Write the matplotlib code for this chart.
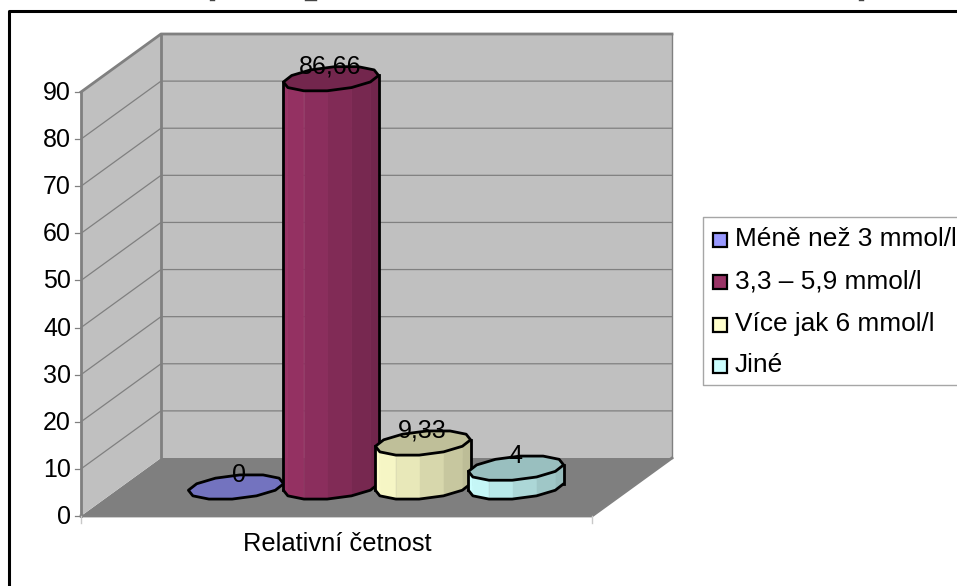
import numpy as np
import matplotlib
matplotlib.use("Agg")
import matplotlib.pyplot as plt
from matplotlib.patches import Polygon, Rectangle

plt.rcParams["font.family"] = ["Liberation Sans", "DejaVu Sans"]

categories = ["Méně než 3 mmol/l", "3,3 – 5,9 mmol/l", "Více jak 6 mmol/l", "Jiné"]
values = [0, 86.66, 9.33, 4]
value_labels = ["0", "86,66", "9,33", "4"]
colors = ["#9999FF", "#993366", "#FFFFCC", "#CCFFFF"]
yticks = [0, 10, 20, 30, 40, 50, 60, 70, 80, 90]
xlabel = "Relativní četnost"

W, H = 957, 586
PX = (516 - 92) / 90  # pixels per percent on the front wall
FS = 18

fig = plt.figure(figsize=(W / 100, H / 100), dpi=100)
ax = fig.add_axes([0, 0, 1, 1])
ax.set_xlim(0, W)
ax.set_ylim(-(H - 516) / PX, 516 / PX)
ax.axis("off")


def dy(pixels):
    return pixels / PX


def to_y(p):
    return dy(516 - p)


# floor and walls of the 3d box
x0, x1 = 81, 592
ddx, ddy = 80, dy(58)
top = yticks[-1]
GREY = "#808080"
ax.add_patch(Polygon([(x0, 0), (x0 + ddx, ddy), (x1 + ddx, ddy), (x1, 0)], fc="#7F7F7F", ec="none"))
ax.add_patch(Polygon([(x0, 0), (x0, top), (x0 + ddx, top + ddy), (x0 + ddx, ddy)], fc="#C0C0C0", ec="none"))
ax.add_patch(Rectangle((x0 + ddx, ddy), x1 - x0, top, fc="#C0C0C0", ec="none"))

for v in yticks[1:-1]:
    ax.plot([x0, x0 + ddx, x1 + ddx], [v, v + ddy, v + ddy], color=GREY, lw=0.9)
    ax.plot([x0 - 6, x0], [v, v], color=GREY, lw=0.9)
ax.plot([x0 - 6, x0], [0, 0], color=GREY, lw=0.9)
ax.plot([x0 - 6, x0], [top, top], color=GREY, lw=0.9)
ax.plot([x0, x0], [0, top], color=GREY, lw=2)
ax.plot([x0, x0 + ddx, x1 + ddx], [top, top + ddy, top + ddy], color=GREY, lw=2)
ax.plot([x0 + ddx, x0 + ddx], [ddy, top + ddy], color=GREY, lw=2)
ax.plot([x1 + ddx, x1 + ddx], [ddy, top + ddy], color=GREY, lw=1)
ax.plot([x0, x1, x1 + ddx], [0, 0, ddy], color=GREY, lw=2)
ax.plot([x0, x0], [0, dy(-7)], color="#C8C8C8", lw=1)
ax.plot([x1, x1], [0, dy(-7)], color="#C8C8C8", lw=1)

for v in yticks:
    ax.text(x0 - 10, v - dy(1), str(v), ha="right", va="center", fontsize=FS, color="black")

# cylinders, drawn left to right so each one overlaps the previous
centers = [236, 331, 423, 516]
base = dy(516 - 487)
A, B, C = 45, 16, 12.5
N = 12
angles = np.linspace(0, 2 * np.pi, N, endpoint=False) + np.pi / N


def darken(col, f):
    return tuple(c * f for c in matplotlib.colors.to_rgb(col))


for i, (cx, val, col) in enumerate(zip(centers, values, colors)):
    px = cx + A * np.cos(angles) - B * np.sin(angles)
    py = -dy(C) * np.sin(angles)
    low = base + py
    high = base + val + py
    lo_x, hi_x = px.min(), px.max()
    z = 10 + i
    if val > 0:
        # walk the lower outline from the rightmost vertex to the leftmost
        start = int(np.argmax(px))
        end = int(np.argmin(px))
        outline = [start]
        while outline[-1] != end:
            outline.append((outline[-1] + 1) % N)
        for a, b in zip(outline[:-1], outline[1:]):
            frac = ((px[a] + px[b]) / 2 - lo_x) / (hi_x - lo_x)
            shade = darken(col, 1 - 0.27 * frac)
            ax.add_patch(Polygon([(px[a], low[a]), (px[b], low[b]), (px[b], high[b]), (px[a], high[a])],
                                 fc=shade, ec=shade, lw=0.5, zorder=z))
        ax.plot(px[outline], low[outline], color="black", lw=2, zorder=z + 0.5, solid_capstyle="round")
        for e in (outline[0], outline[-1]):
            ax.plot([px[e], px[e]], [low[e], high[e]], color="black", lw=2, zorder=z + 0.5)
    ax.add_patch(Polygon(np.column_stack([px, high]), closed=True, fc=darken(col, 0.75), ec="black", lw=2,
                         joinstyle="round", zorder=z + 0.6))
    ax.text(cx + (3 if val == 0 else -1), base + val + dy(12.5), value_labels[i], ha="center", va="center",
            fontsize=FS, color="black", zorder=30)

ax.text(337, to_y(544), xlabel, ha="center", va="center", fontsize=18.4)

# legend box runs off the right edge
leg_l, leg_t, leg_b = 703, 217, 385
ax.plot([W + 5, leg_l, leg_l, W + 5], [to_y(leg_t), to_y(leg_t), to_y(leg_b), to_y(leg_b)], color="#A6A6A6", lw=1)
for name, col, yc in zip(categories, colors, [240, 282, 324.5, 365.5]):
    ax.add_patch(Rectangle((713, to_y(yc + 7)), 14, dy(14), fc=col, ec="black", lw=1.6))
    ax.text(735, to_y(yc - 1), name, ha="left", va="center", fontsize=18.9)

# outer frame, open on the right and at the bottom
ax.plot([9, 9, W + 5], [to_y(H + 5), to_y(11), to_y(11)], color="black", lw=2.2)

# bits of a heading cut off by the top edge
for xa, xb in [(210, 214), (305, 316), (859, 863)]:
    ax.plot([xa, xb], [to_y(0.2), to_y(0.2)], color="#444444", lw=1)

fig.savefig("out.png", dpi=100)
